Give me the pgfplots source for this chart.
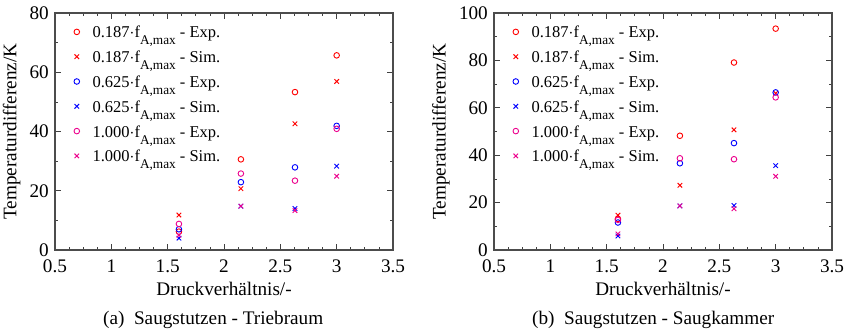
\documentclass[border=0pt]{standalone}
\usepackage{pgfplots}
\pgfplotsset{compat=1.18}
\usepackage{fontspec}
\setmainfont{Liberation Serif}
\newcommand{\fA}{f\raisebox{-7pt}{\fontsize{13.3}{13}\selectfont A,max}}
\pgfplotsset{
  myaxis/.style={
    scale only axis, width=338pt, height=237pt,
    font=\fontsize{19.2}{22}\selectfont,
    /pgf/number format/assume math mode=true,
    xmin=0.5, xmax=3.5, xtick={0.5,1,1.5,2,2.5,3,3.5},
    minor x tick num=3, minor y tick num=1,
    major tick length=6pt, minor tick length=3pt,
    tick style={black!75, line width=0.7pt},
    axis line style={black!70, line width=1.2pt},
    tick align=inside,
    xticklabel style={inner sep=0pt, yshift=-10pt},
    yticklabel style={inner sep=0pt, xshift=-6pt},
    xlabel={Druckverh\"altnis/-},
    ylabel={Temperaturdifferenz/K},
    xlabel style={at={(ticklabel cs:0.5,9pt)}, anchor=near ticklabel, inner sep=0pt},
    ylabel style={at={(ticklabel cs:0.5,9pt)}, anchor=near ticklabel, inner sep=0pt},
    clip=false,
    legend style={draw=none, fill=none, at={(rel axis cs:0,1)}, anchor=north west,
      xshift=19pt, yshift=-12pt, inner sep=0pt, outer sep=0pt, column sep=13pt,
      font=\fontsize{16.5}{19}\selectfont,
      nodes={inner sep=0pt, text height=13pt, text depth=11.8pt, anchor=west}},
    legend cell align=left,
    legend image code/.code={\draw[#1] plot coordinates {(0pt,5.5pt)};},
  },
  expo/.style={only marks, mark=o, mark size=2.8pt, line width=0.9pt},
  simu/.style={only marks, mark=x, mark size=3.2pt, line width=0.95pt},
}
\begin{document}
\begin{tikzpicture}
\useasboundingbox (-55pt,-81pt) rectangle (794pt,250pt);
\begin{axis}[myaxis, ymin=0, ymax=80, ytick={0,20,40,60,80}]
\addplot[expo, red] coordinates {(1.6,6.2) (2.15,30.6) (2.63,53.3) (3.0,65.7)};
\addlegendentry{0.187$\cdot$\fA{} - Exp.}
\addplot[simu, red] coordinates {(1.6,11.8) (2.15,20.7) (2.63,42.6) (3.0,56.9)};
\addlegendentry{0.187$\cdot$\fA{} - Sim.}
\addplot[expo, blue] coordinates {(1.6,7.0) (2.15,22.9) (2.63,27.9) (3.0,41.9)};
\addlegendentry{0.625$\cdot$\fA{} - Exp.}
\addplot[simu, blue] coordinates {(1.6,4.0) (2.15,14.8) (2.63,14.0) (3.0,28.3)};
\addlegendentry{0.625$\cdot$\fA{} - Sim.}
\addplot[expo, magenta] coordinates {(1.6,8.8) (2.15,25.8) (2.63,23.4) (3.0,40.9)};
\addlegendentry{1.000$\cdot$\fA{} - Exp.}
\addplot[simu, magenta] coordinates {(1.6,5.0) (2.15,14.8) (2.63,13.3) (3.0,24.9)};
\addlegendentry{1.000$\cdot$\fA{} - Sim.}
\node[anchor=base] at (rel axis cs:0.468,0) [yshift=-75pt] {(a)\enspace Saugstutzen - Triebraum};
\end{axis}
\begin{axis}[myaxis, at={(439pt,0pt)}, ymin=0, ymax=100, ytick={0,20,40,60,80,100}]
\addplot[expo, red] coordinates {(1.6,13.1) (2.15,48.2) (2.63,79.1) (3.0,93.4)};
\addlegendentry{0.187$\cdot$\fA{} - Exp.}
\addplot[simu, red] coordinates {(1.6,14.7) (2.15,27.3) (2.63,50.7) (3.0,66.1)};
\addlegendentry{0.187$\cdot$\fA{} - Sim.}
\addplot[expo, blue] coordinates {(1.6,11.6) (2.15,36.6) (2.63,45.1) (3.0,66.5)};
\addlegendentry{0.625$\cdot$\fA{} - Exp.}
\addplot[simu, blue] coordinates {(1.6,5.9) (2.15,18.6) (2.63,18.8) (3.0,35.6)};
\addlegendentry{0.625$\cdot$\fA{} - Sim.}
\addplot[expo, magenta] coordinates {(1.6,12.7) (2.15,38.7) (2.63,38.3) (3.0,64.4)};
\addlegendentry{1.000$\cdot$\fA{} - Exp.}
\addplot[simu, magenta] coordinates {(1.6,6.8) (2.15,18.6) (2.63,17.4) (3.0,31.1)};
\addlegendentry{1.000$\cdot$\fA{} - Sim.}
\node[anchor=base] at (rel axis cs:0.471,0) [yshift=-75pt] {(b)\enspace Saugstutzen - Saugkammer};
\end{axis}
\end{tikzpicture}
\end{document}
